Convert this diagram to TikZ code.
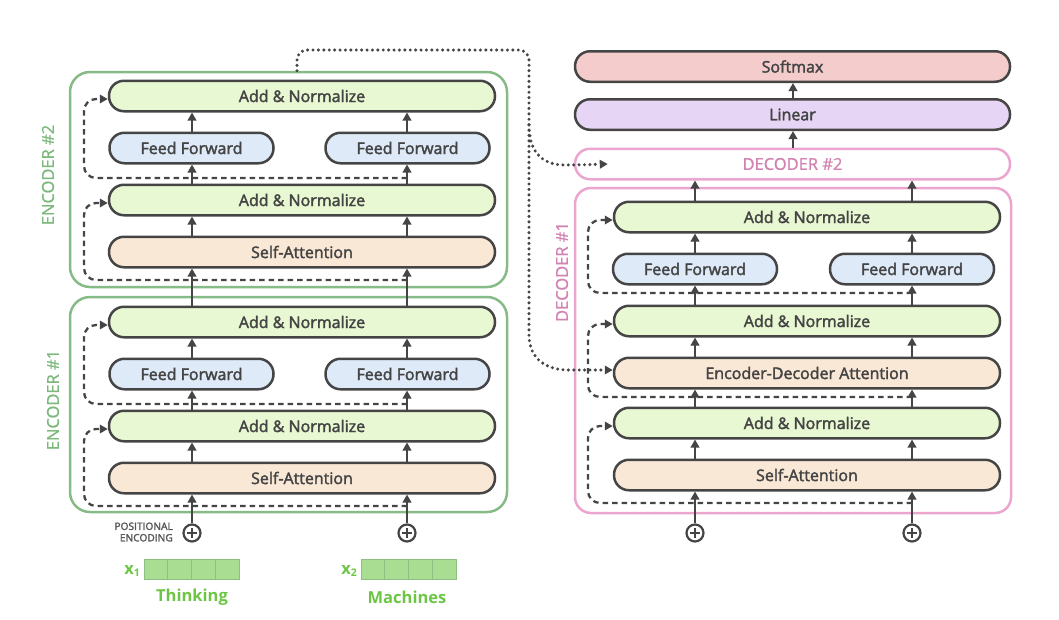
\documentclass[tikz,border=0pt]{standalone}
\usepackage{fontspec}
\setmainfont{Open Sans}
\newfontfamily\semif{Open Sans}[FakeBold=2.2]
\newfontfamily\lblf{Open Sans}[FakeBold=1]
\usetikzlibrary{arrows.meta,calc}
\definecolor{txt}{HTML}{444444}
\definecolor{edge}{HTML}{454545}
\definecolor{anfill}{HTML}{E8F8D2}
\definecolor{fffill}{HTML}{DEEAF8}
\definecolor{safill}{HTML}{F9E8D6}
\definecolor{smfill}{HTML}{F4CCCC}
\definecolor{linfill}{HTML}{E6D5F4}
\definecolor{encgreen}{HTML}{86BA86}
\definecolor{enctext}{HTML}{7DB87D}
\definecolor{decpink}{HTML}{EBA5CF}
\definecolor{dectext}{HTML}{D283B1}
\definecolor{wordgreen}{HTML}{6CC644}
\definecolor{cellfill}{HTML}{A9DD92}
\definecolor{celledge}{HTML}{8DBF80}
\tikzset{
  blk/.style={draw=edge, line width=2.5pt, rounded corners=15pt, minimum height=30.5pt,
    inner sep=0pt, text=txt, font=\semif\fontsize{16}{18}\selectfont},
  wide/.style={blk, minimum width=386pt},
  half/.style={blk, minimum width=164pt},
  anbox/.style={wide, fill=anfill},
  ffbox/.style={half, fill=fffill},
  sabox/.style={wide, fill=safill},
  topbox/.style={blk, minimum width=435pt},
  encbox/.style={draw=encgreen, line width=2.5pt, rounded corners=20pt, inner sep=0pt},
  decbox/.style={draw=decpink, line width=2.5pt, rounded corners=16pt, inner sep=0pt},
  arr/.style={draw=edge, line width=2.2pt, -{Triangle[length=8pt,width=8.5pt]}},
  resid/.style={draw=edge, line width=2.3pt, dash pattern=on 5.5pt off 4pt, rounded corners=12pt,
    -{Triangle[length=8pt,width=8.5pt]}},
  dotline/.style={draw=edge, line width=3.4pt, dash pattern=on 0pt off 5.4pt, line cap=round,
    rounded corners=10pt, -{Triangle[length=8pt,width=8.5pt]}},
  plusnode/.style={circle, draw=edge, line width=2.2pt, minimum size=17pt, inner sep=0pt},
  cell/.style={draw=celledge, line width=1pt, fill=cellfill, minimum width=23.75pt, minimum height=20pt, inner sep=0pt},
  lbl/.style={font=\lblf\fontsize{16.5}{18}\selectfont},
  word/.style={text=wordgreen, font=\fontsize{16.5}{18}\bfseries},
}
\begin{document}
\begin{tikzpicture}[x=1pt,y=-1pt]
\useasboundingbox (0,0) rectangle (1059,619);
% columns
\coordinate (cL) at (192,0);
\coordinate (cR) at (407,0);
\coordinate (dL) at (695,0);
\coordinate (dR) at (912,0);
% encoder containers
\node[encbox, minimum width=437pt, minimum height=215pt] (enc2) at (288.5,179.5) {};
\node[encbox, minimum width=437pt, minimum height=215pt] (enc1) at (288.5,404.5) {};
\node[lbl, text=enctext, rotate=90] (enc2lbl) at (48,175) {ENCODER \#2};
\node[lbl, text=enctext, rotate=90] (enc1lbl) at (53,400) {ENCODER \#1};
% encoder 2
\node[anbox] (e2an2) at (302,96) {Add \& Normalize};
\node[ffbox] (e2ffL) at (191.5,148) {Feed Forward};
\node[ffbox] (e2ffR) at (407.5,148) {Feed Forward};
\node[anbox] (e2an1) at (302,200) {Add \& Normalize};
\node[sabox] (e2sa) at (302,252) {Self-Attention};
% encoder 1
\node[anbox] (e1an2) at (302,322) {Add \& Normalize};
\node[ffbox] (e1ffL) at (191.5,374) {Feed Forward};
\node[ffbox] (e1ffR) at (407.5,374) {Feed Forward};
\node[anbox] (e1an1) at (302,426) {Add \& Normalize};
\node[sabox] (e1sa) at (302,478) {Self-Attention};
% inputs
\node[plusnode] (p1) at (192,533) {};
\node[plusnode] (p2) at (407,533) {};
\node[plusnode] (p3) at (695,533) {};
\node[plusnode] (p4) at (912,533) {};
\foreach \p in {p1,p2,p3,p4}{
  \draw[edge, line width=2pt] ($(\p)+(-5,0)$) -- ($(\p)+(5,0)$);
  \draw[edge, line width=2pt] ($(\p)+(0,-5)$) -- ($(\p)+(0,5)$);
}
\node[anchor=east, align=right, text=txt!90, font=\semif\fontsize{10.2}{11.5}\selectfont, inner sep=0pt] (pe) at (173,532) {POSITIONAL\\ENCODING};
\foreach \i in {0,1,2,3}{
  \node[cell] (xa\i) at (155.9+23.75*\i,569.5) {};
  \node[cell] (xb\i) at (372.9+23.75*\i,569.5) {};
}
\node[word, anchor=east, inner sep=0pt] (x1) at (140,571) {x\raisebox{-2.5pt}{\fontsize{10.5}{10}\selectfont 1}};
\node[word, anchor=east, inner sep=0pt] (x2) at (357,571) {x\raisebox{-2.5pt}{\fontsize{10.5}{10}\selectfont 2}};
\node[word] (w1) at (192,597) {Thinking};
\node[word] (w2) at (407,597) {Machines};
% encoder arrows
\foreach \c in {cL,cR}{
  \draw[arr] (e1sa.north -| \c) -- (e1an1.south -| \c);
  \draw[arr] (e1an2.north -| \c) -- (e2sa.south -| \c);
  \draw[arr] (e2sa.north -| \c) -- (e2an1.south -| \c);
}
\draw[arr] (p1) -- (e1sa.south -| cL);
\draw[arr] (p2) -- (e1sa.south -| cR);
\draw[arr] (e1an1.north -| cL) -- (e1ffL.south -| cL);
\draw[arr] (e1an1.north -| cR) -- (e1ffR.south -| cR);
\draw[arr] (e1ffL.north -| cL) -- (e1an2.south -| cL);
\draw[arr] (e1ffR.north -| cR) -- (e1an2.south -| cR);
\draw[arr] (e2an1.north -| cL) -- (e2ffL.south -| cL);
\draw[arr] (e2an1.north -| cR) -- (e2ffR.south -| cR);
\draw[arr] (e2ffL.north -| cL) -- (e2an2.south -| cL);
\draw[arr] (e2ffR.north -| cR) -- (e2an2.south -| cR);
% encoder residuals
\coordinate (r1) at (407,506); \coordinate (r2) at (407,404);
\coordinate (r3) at (407,280); \coordinate (r4) at (407,178);
\draw[resid] (r1) -- (84,506) -- (84,429) -- ($(e1an1.west)+(0,3)$);
\draw[resid] (r2) -- (84,404) -- (84,325) -- ($(e1an2.west)+(0,3)$);
\draw[resid] (r3) -- (84,280) -- (84,203) -- ($(e2an1.west)+(0,3)$);
\draw[resid] (r4) -- (84,178) -- (84,99) -- ($(e2an2.west)+(0,3)$);
% decoder
\node[topbox, fill=smfill] (soft) at (792.5,66.5) {Softmax};
\node[topbox, fill=linfill] (lin) at (792.5,114.5) {Linear};
\node[topbox, draw=decpink, fill=white, text=dectext, font=\lblf\fontsize{16.5}{18}\selectfont] (dec2) at (792.5,164) {DECODER \#2};
\node[decbox, minimum width=436pt, minimum height=325pt] (dec1) at (793,350.5) {};
\node[lbl, text=dectext, rotate=90] (dec1lbl) at (562,272) {DECODER \#1};
\node[anbox] (dan2) at (807,217) {Add \& Normalize};
\node[ffbox] (dffL) at (695,269) {Feed Forward};
\node[ffbox] (dffR) at (912,269) {Feed Forward};
\node[anbox] (dan1) at (807,321) {Add \& Normalize};
\node[sabox] (deda) at (807,373) {Encoder-Decoder Attention};
\node[anbox] (dan0) at (807,423) {Add \& Normalize};
\node[sabox] (dsa) at (807,475) {Self-Attention};
\coordinate (mc) at (793,0);
\draw[arr] (lin.north -| mc) -- (soft.south -| mc);
\draw[arr] (dec2.north -| mc) -- (lin.south -| mc);
\draw[arr] (p3) -- (dsa.south -| dL);
\draw[arr] (p4) -- (dsa.south -| dR);
\foreach \c in {dL,dR}{
  \draw[arr] (dsa.north -| \c) -- (dan0.south -| \c);
  \draw[arr] (dan0.north -| \c) -- (deda.south -| \c);
  \draw[arr] (deda.north -| \c) -- (dan1.south -| \c);
  \draw[arr] (dan2.north -| \c) -- (dec2.south -| \c);
}
\draw[arr] (dan1.north -| dL) -- (dffL.south -| dL);
\draw[arr] (dan1.north -| dR) -- (dffR.south -| dR);
\draw[arr] (dffL.north -| dL) -- (dan2.south -| dL);
\draw[arr] (dffR.north -| dR) -- (dan2.south -| dR);
\coordinate (s1) at (912,503); \coordinate (s2) at (912,397); \coordinate (s3) at (912,293);
\draw[resid] (s1) -- (588,503) -- (588,426) -- ($(dan0.west)+(0,3)$);
\draw[resid] (s2) -- (588,397) -- (588,324) -- ($(dan1.west)+(0,3)$);
\draw[resid] (s3) -- (588,293) -- (588,220) -- ($(dan2.west)+(0,3)$);
% dotted encoder output
\coordinate (dA) at (297,50);
\coordinate (dB) at (529,50);
\coordinate (dC) at (529,125);
\draw[dotline] (enc2.north -| dA) -- (dA) -- (dB) -- (529,325)
   .. controls (529,360) and (548,370) .. (578,370) -- ($(deda.west)+(0,-3)$);
\draw[dotline] (dC) .. controls (529,155) and (545,165) .. (575,165) -- ($(dec2.west)+(34,0)$);
\end{tikzpicture}
\end{document}
